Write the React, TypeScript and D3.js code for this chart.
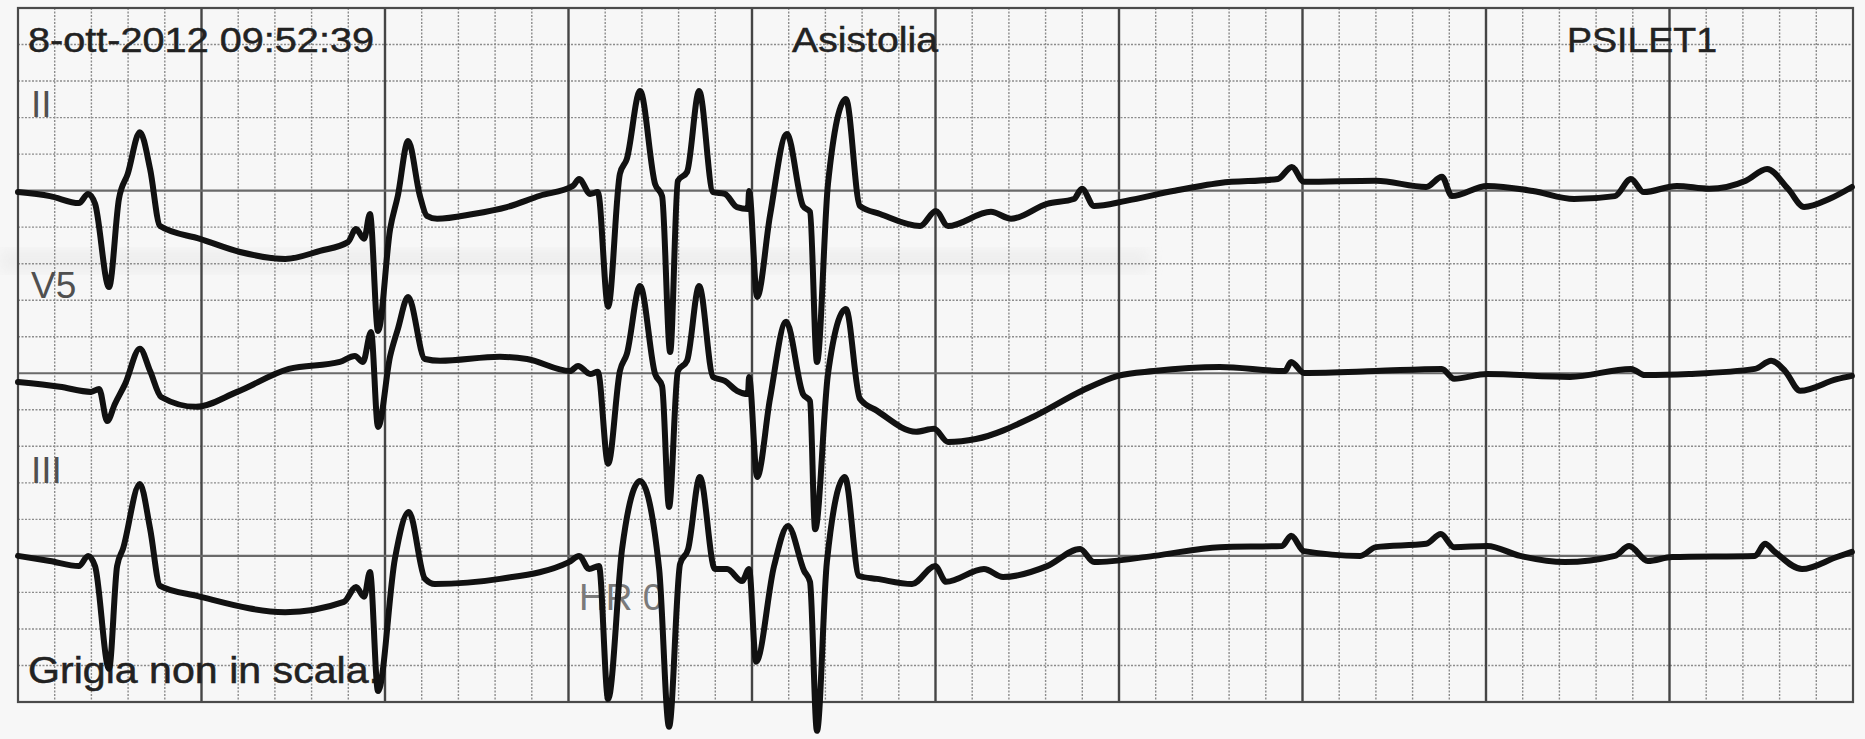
import React, { useEffect, useRef } from "react";
import * as d3 from "d3";

// strip: 50 small columns x 19 small rows ("Grigia non in scala")
const COLS = 50;
const ROWS = 19;

// baselines of each lead, in small rows from top of the grid
const leadNames = ["II", "V5", "III"];
const leadBaseRows = [5, 10, 15];

// [time in small boxes, amplitude in small boxes above baseline]
const leadII: [number, number][] = [
  [0, -0.04], [0.87, -0.15], [1.66, -0.34], [1.91, -0.09], [2.1, -0.36], [2.48, -2.64],
  [2.75, -0.23], [2.99, 0.46], [3.32, 1.6], [3.6, 0.59], [3.87, -0.97], [4.96, -1.32],
  [6.05, -1.68], [7.28, -1.87], [8.23, -1.65], [8.99, -1.41], [9.21, -1.05], [9.43, -1.32],
  [9.59, -0.64], [9.81, -3.84], [10.14, -1.05], [10.35, -0.14], [10.63, 1.36], [10.95, -0.14],
  [11.14, -0.69], [11.42, -0.77], [12.4, -0.64], [13.32, -0.45], [14.22, -0.14], [15.12, 0.13],
  [15.29, 0.32], [15.59, -0.09], [15.8, -0.04], [16.08, -3.18], [16.4, 0.46], [16.59, 0.87],
  [16.95, 2.73], [17.36, 0.18], [17.55, -0.15], [17.77, -4.42], [17.98, 0.27], [18.23, 0.51],
  [18.56, 2.73], [18.94, -0.04], [19.26, -0.09], [19.59, -0.45], [19.89, -0.5], [19.92, -0.01],
  [20.14, -2.91], [20.49, -0.69], [20.95, 1.55], [21.39, -0.42], [21.58, -0.58], [21.77, -4.69],
  [22.07, 0.18], [22.56, 2.51], [22.94, -0.42], [23.49, -0.64], [24.58, -0.97], [25.01, -0.56],
  [25.34, -0.97], [26.51, -0.58], [27.06, -0.77], [28.04, -0.36], [28.77, -0.23], [28.99, 0.05],
  [29.32, -0.42], [30.19, -0.28], [31.47, -0.01], [32.75, 0.21], [34.33, 0.32], [34.71, 0.65],
  [35.04, 0.24], [37.0, 0.27], [38.37, 0.1], [38.8, 0.38], [39.07, -0.15], [40.03, 0.13],
  [41.28, -0.01], [42.4, -0.23], [43.51, -0.15], [43.95, 0.32], [44.3, -0.04], [45.2, 0.13],
  [46.08, 0.05], [47.08, 0.27], [47.66, 0.59], [48.23, 0.05], [48.67, -0.45], [49.35, -0.23],
  [49.97, 0.1],
];

const leadV5: [number, number][] = [
  [0, -0.24], [1.14, -0.37], [1.99, -0.51], [2.21, -0.43], [2.43, -1.31], [2.64, -0.84],
  [2.92, -0.29], [3.32, 0.67], [3.6, 0.06], [3.9, -0.65], [4.85, -0.92], [5.97, -0.51],
  [7.38, 0.12], [8.77, 0.31], [9.18, 0.47], [9.4, 0.31], [9.62, 1.13], [9.81, -1.47],
  [10.14, 0.47], [10.35, 1.21], [10.63, 2.09], [11.09, 0.39], [11.5, 0.34], [13.13, 0.45],
  [13.87, 0.39], [15.04, 0.06], [15.26, 0.2], [15.59, -0.02], [15.8, 0.04], [16.08, -2.48],
  [16.4, 0.06], [16.59, 0.53], [16.95, 2.39], [17.36, -0.02], [17.55, -0.35], [17.74, -3.66],
  [17.98, 0.06], [18.23, 0.34], [18.56, 2.39], [18.94, -0.1], [19.26, -0.21], [19.59, -0.48],
  [19.89, -0.57], [19.92, -0.1], [20.14, -2.84], [20.49, -0.7], [20.93, 1.41], [21.39, -0.57],
  [21.58, -0.76], [21.72, -4.27], [22.07, -0.02], [22.56, 1.76], [22.94, -0.7], [23.41, -1.03],
  [24.47, -1.6], [24.96, -1.52], [25.34, -1.88], [26.1, -1.8], [27.71, -1.17], [28.99, -0.48],
  [29.97, -0.07], [30.95, 0.06], [32.75, 0.17], [34.52, 0.06], [34.69, 0.31], [35.04, 0.01],
  [37.0, 0.06], [38.8, 0.12], [39.13, -0.15], [40.03, -0.02], [42.29, -0.1], [43.95, 0.12],
  [44.33, -0.05], [45.53, -0.02], [47.33, 0.12], [47.77, 0.34], [48.15, 0.06], [48.56, -0.48],
  [49.56, -0.16], [49.97, -0.07],
];

const leadIII: [number, number][] = [
  [0, 0], [0.87, -0.14], [1.66, -0.28], [1.91, 0], [2.1, -0.28], [2.48, -3.09],
  [2.7, -0.28], [2.86, 0.19], [3.32, 1.97], [3.6, 0.74], [3.87, -0.82], [4.9, -1.1],
  [7.28, -1.54], [8.88, -1.26], [9.21, -0.85], [9.43, -1.12], [9.59, -0.44], [9.81, -3.7],
  [10.27, -0.08], [10.65, 1.2], [11.09, -0.63], [11.36, -0.77], [13.13, -0.63], [15.01, -0.17],
  [15.29, 0], [15.56, -0.36], [15.83, -0.28], [16.08, -3.92], [16.46, 0.19], [16.95, 2.05],
  [17.47, -0.36], [17.74, -4.68], [18.04, -0.22], [18.26, 0.19], [18.58, 2.16], [18.99, -0.36],
  [19.32, -0.36], [19.73, -0.69], [19.92, -0.36], [20.11, -2.9], [20.6, -0.28], [20.98, 0.82],
  [21.42, -0.41], [21.58, -0.71], [21.77, -4.79], [22.04, -0.17], [22.53, 2.16], [22.92, -0.55],
  [23.41, -0.63], [24.36, -0.77], [24.99, -0.28], [25.29, -0.71], [26.32, -0.36], [26.84, -0.58],
  [28.04, -0.28], [28.94, 0.19], [29.32, -0.17], [30.95, 0], [32.75, 0.24], [34.44, 0.27],
  [34.69, 0.55], [35.04, 0.13], [36.57, 0], [37.0, 0.24], [38.37, 0.33], [38.77, 0.6],
  [39.13, 0.24], [40.03, 0.27], [40.93, 0], [42.15, -0.17], [43.51, 0], [43.9, 0.27],
  [44.41, -0.14], [45.07, -0.03], [47.33, 0], [47.6, 0.33], [47.87, 0.11], [48.61, -0.36],
  [49.56, -0.03], [49.97, 0.11],
];

const leads = [leadII, leadV5, leadIII];

const headerTexts = ["8-ott-2012 09:52:39", "Asistolia", "PSILET1"];
const footerText = "Grigia non in scala.";
const hrText = "HR 0";

export default function App() {
  const ref = useRef<SVGSVGElement>(null);

  useEffect(() => {
    const width = 1865, height = 739;
    const svg = d3.select(ref.current);
    svg.selectAll("*").remove();

    const x = d3.scaleLinear().domain([0, COLS]).range([18, 1853]);
    const y = d3.scaleLinear().domain([0, ROWS]).range([8, 702]);

    svg.append("rect").attr("width", width).attr("height", height).attr("fill", "#f7f7f7");

    // faint fold in the paper
    const defs = svg.append("defs");
    defs.append("filter").attr("id", "blur").append("feGaussianBlur").attr("stdDeviation", 7);
    svg.append("rect")
      .attr("x", 0).attr("y", 250).attr("width", 1150).attr("height", 22)
      .attr("fill", "#d4d4d4").attr("opacity", 0.25).attr("filter", "url(#blur)");

    const g = svg.append("g");

    // minor grid, dotted
    g.selectAll(".vminor")
      .data(d3.range(1, COLS).filter(k => k % 5 !== 0))
      .join("line")
      .attr("x1", d => x(d)).attr("x2", d => x(d))
      .attr("y1", y(0)).attr("y2", y(ROWS))
      .attr("stroke", "#8c8c8c").attr("stroke-width", 1.4)
      .attr("stroke-dasharray", "2,1.5");

    g.selectAll(".hminor")
      .data(d3.range(1, ROWS).filter(k => k % 5 !== 0))
      .join("line")
      .attr("x1", x(0)).attr("x2", x(COLS))
      .attr("y1", d => y(d)).attr("y2", d => y(d))
      .attr("stroke", "#8c8c8c").attr("stroke-width", 1.4)
      .attr("stroke-dasharray", "2,1.5");

    // major grid
    g.selectAll(".vmajor")
      .data(d3.range(5, COLS, 5))
      .join("line")
      .attr("x1", d => x(d)).attr("x2", d => x(d))
      .attr("y1", y(0)).attr("y2", y(ROWS))
      .attr("stroke", "#454545").attr("stroke-width", 2.4);

    g.selectAll(".hmajor")
      .data(d3.range(5, ROWS, 5))
      .join("line")
      .attr("x1", x(0)).attr("x2", x(COLS))
      .attr("y1", d => y(d)).attr("y2", d => y(d))
      .attr("stroke", "#6a6a6a").attr("stroke-width", 2.2);

    g.append("rect")
      .attr("x", x(0)).attr("y", y(0))
      .attr("width", x(COLS) - x(0)).attr("height", y(ROWS) - y(0))
      .attr("fill", "none").attr("stroke", "#4a4a4a").attr("stroke-width", 2.2);

    // texts (glyphs stretched a bit, like the printer font)
    const font = "'Liberation Sans', Arial, Helvetica, sans-serif";
    const header = [
      { t: headerTexts[0], x: 28, len: 346 },
      { t: headerTexts[1], x: 792, len: 146 },
      { t: headerTexts[2], x: 1567, len: 150 },
    ];
    svg.selectAll(".hdr").data(header).join("text")
      .attr("x", d => d.x).attr("y", 52)
      .attr("font-family", font).attr("font-size", 35)
      .attr("textLength", d => d.len).attr("lengthAdjust", "spacingAndGlyphs")
      .attr("fill", "#222").attr("stroke", "#222").attr("stroke-width", 0.5)
      .text(d => d.t);

    svg.selectAll(".lbl").data(leadNames).join("text")
      .attr("x", 31)
      .attr("y", (d, i) => [117, 298, 483][i])
      .attr("font-family", font).attr("font-size", 37)
      .attr("fill", "#505050")
      .text(d => d);

    svg.append("text")
      .attr("x", 579).attr("y", 610)
      .attr("font-family", font).attr("font-size", 37)
      .attr("fill", "#7a7a7a")
      .text(hrText);

    svg.append("text")
      .attr("x", 28).attr("y", 683)
      .attr("font-family", font).attr("font-size", 37)
      .attr("textLength", 352).attr("lengthAdjust", "spacingAndGlyphs")
      .attr("fill", "#222").attr("stroke", "#222").attr("stroke-width", 0.5)
      .text(footerText);

    // traces
    leads.forEach((data, i) => {
      const base = leadBaseRows[i];
      const line = d3.line<[number, number]>()
        .x(d => x(d[0]))
        .y(d => y(base - d[1]))
        .curve(d3.curveMonotoneX);
      svg.append("path")
        .datum(data)
        .attr("fill", "none")
        .attr("stroke", "#111")
        .attr("stroke-width", 6)
        .attr("stroke-linejoin", "round")
        .attr("stroke-linecap", "round")
        .attr("d", line);
    });
  }, []);

  return (
    <svg
      ref={ref}
      width={1865}
      height={739}
      style={{ position: "absolute", left: 0, top: 0, display: "block" }}
    />
  );
}
